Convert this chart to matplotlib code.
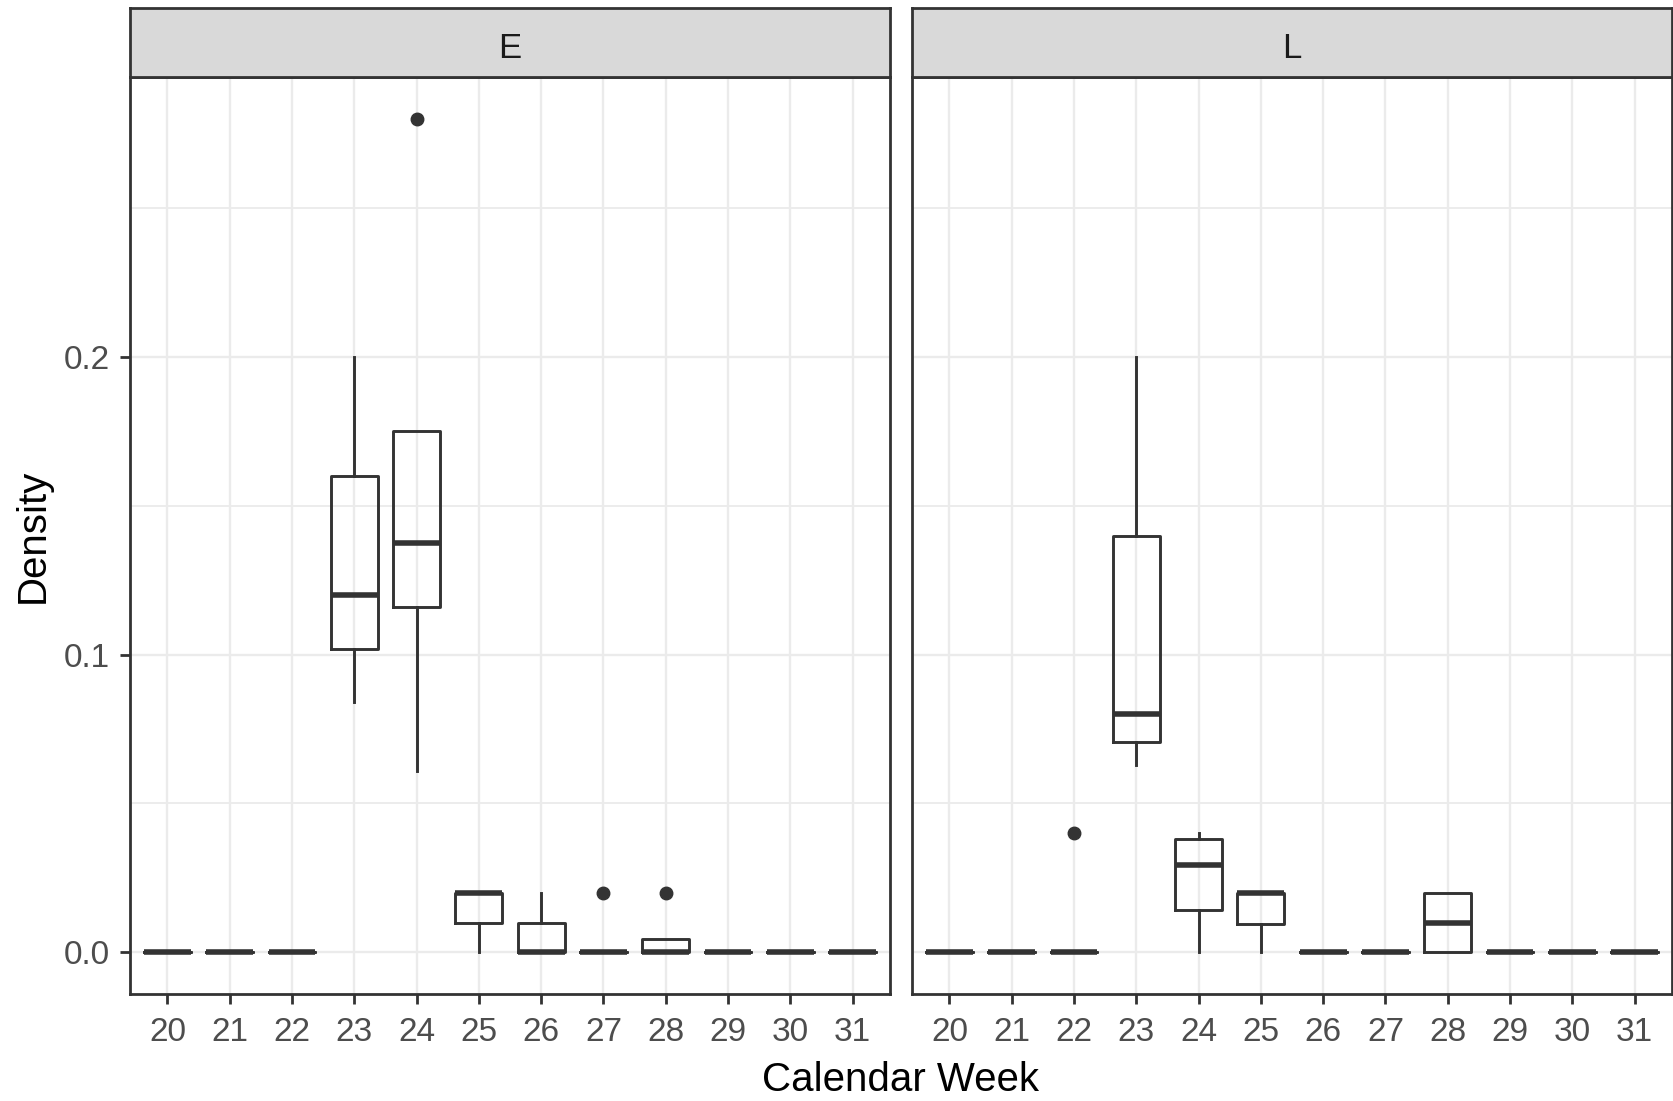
"""Boxplots of density per calendar week, faceted by E and L"""
import matplotlib
matplotlib.use("Agg")
import matplotlib.pyplot as plt

plt.rcParams["font.family"] = ["Liberation Sans", "DejaVu Sans"]

weeks = [20, 21, 22, 23, 24, 25, 26, 27, 28, 29, 30, 31]

# panel E
e_whislo = [0, 0, 0, 0.084, 0.061, 0, 0, 0, 0, 0, 0, 0]
e_q1 = [0, 0, 0, 0.102, 0.116, 0.01, 0, 0, 0, 0, 0, 0]
e_med = [0, 0, 0, 0.12, 0.1375, 0.02, 0, 0, 0, 0, 0, 0]
e_q3 = [0, 0, 0, 0.16, 0.175, 0.02, 0.01, 0, 0.0045, 0, 0, 0]
e_whishi = [0, 0, 0, 0.2, 0.175, 0.02, 0.02, 0, 0.0045, 0, 0, 0]
e_fliers = [[], [], [], [], [0.28], [], [], [0.02], [0.02], [], [], []]

# panel L
l_whislo = [0, 0, 0, 0.063, 0, 0, 0, 0, 0, 0, 0, 0]
l_q1 = [0, 0, 0, 0.0708, 0.0142, 0.0095, 0, 0, 0, 0, 0, 0]
l_med = [0, 0, 0, 0.08, 0.0293, 0.02, 0, 0, 0.01, 0, 0, 0]
l_q3 = [0, 0, 0, 0.14, 0.0382, 0.02, 0, 0, 0.02, 0, 0, 0]
l_whishi = [0, 0, 0, 0.2, 0.04, 0.02, 0, 0, 0.02, 0, 0, 0]
l_fliers = [[], [], [0.04], [], [], [], [], [], [], [], [], []]

panels = [
    ("E", e_whislo, e_q1, e_med, e_q3, e_whishi, e_fliers),
    ("L", l_whislo, l_q1, l_med, l_q3, l_whishi, l_fliers),
]

W, H = 1673, 1101
fig = plt.figure(figsize=(W / 100, H / 100), dpi=100)

dark = "#333333"
grid = "#EBEBEB"
lefts = [130, 912]
pw = 760
top, bottom = 77, 994
strip_top = 8

for i, (name, wlo, q1, med, q3, whi, fl) in enumerate(panels):
    x0 = lefts[i] / W
    ax = fig.add_axes([x0, (H - bottom) / H, pw / W, (bottom - top) / H])
    stats = []
    for k in range(len(weeks)):
        stats.append(dict(whislo=wlo[k], q1=q1[k], med=med[k], q3=q3[k],
                          whishi=whi[k], fliers=fl[k]))
    ax.bxp(stats, positions=weeks, widths=0.75, showcaps=False,
           boxprops=dict(color=dark, linewidth=2.1),
           whiskerprops=dict(color=dark, linewidth=2.1),
           medianprops=dict(color=dark, linewidth=4.0, solid_capstyle="butt"),
           flierprops=dict(marker="o", markerfacecolor=dark, markeredgecolor=dark,
                           markersize=9))
    ax.set_xlim(19.4, 31.6)
    ax.set_ylim(-0.014, 0.294)
    ax.set_xticks(weeks)
    ax.set_xticklabels([str(w) for w in weeks])
    ax.set_yticks([0, 0.1, 0.2])
    ax.set_yticks([0.05, 0.15, 0.25], minor=True)
    ax.set_yticklabels(["0.0", "0.1", "0.2"])
    ax.grid(True, which="major", color=grid, linewidth=1.7)
    ax.grid(True, which="minor", axis="y", color=grid, linewidth=1.3)
    ax.set_axisbelow(True)
    for s in ax.spines.values():
        s.set_color(dark)
        s.set_linewidth(2.0)
    ax.tick_params(axis="both", which="major", length=7.5, width=2.0, color=dark,
                   labelsize=24, labelcolor="#4D4D4D")
    ax.tick_params(axis="x", pad=9)
    ax.tick_params(axis="y", pad=7)
    ax.tick_params(axis="y", which="minor", length=0)
    if i == 1:
        ax.tick_params(axis="y", which="major", left=False, labelleft=False)

    sax = fig.add_axes([x0, (H - top) / H, pw / W, (top - strip_top) / H])
    sax.set_facecolor("#D9D9D9")
    sax.set_xticks([])
    sax.set_yticks([])
    for s in sax.spines.values():
        s.set_color(dark)
        s.set_linewidth(2.0)
    sax.text(0.5, 0.42, name, ha="center", va="center", fontsize=25,
             color="#1A1A1A", transform=sax.transAxes)

fig.text(901 / W, 1 - 1080 / H, "Calendar Week", ha="center", va="center",
         fontsize=29)
fig.text(33 / W, 1 - 536 / H, "Density", ha="center", va="center",
         rotation=90, fontsize=29)

fig.savefig("out.png", dpi=100)
